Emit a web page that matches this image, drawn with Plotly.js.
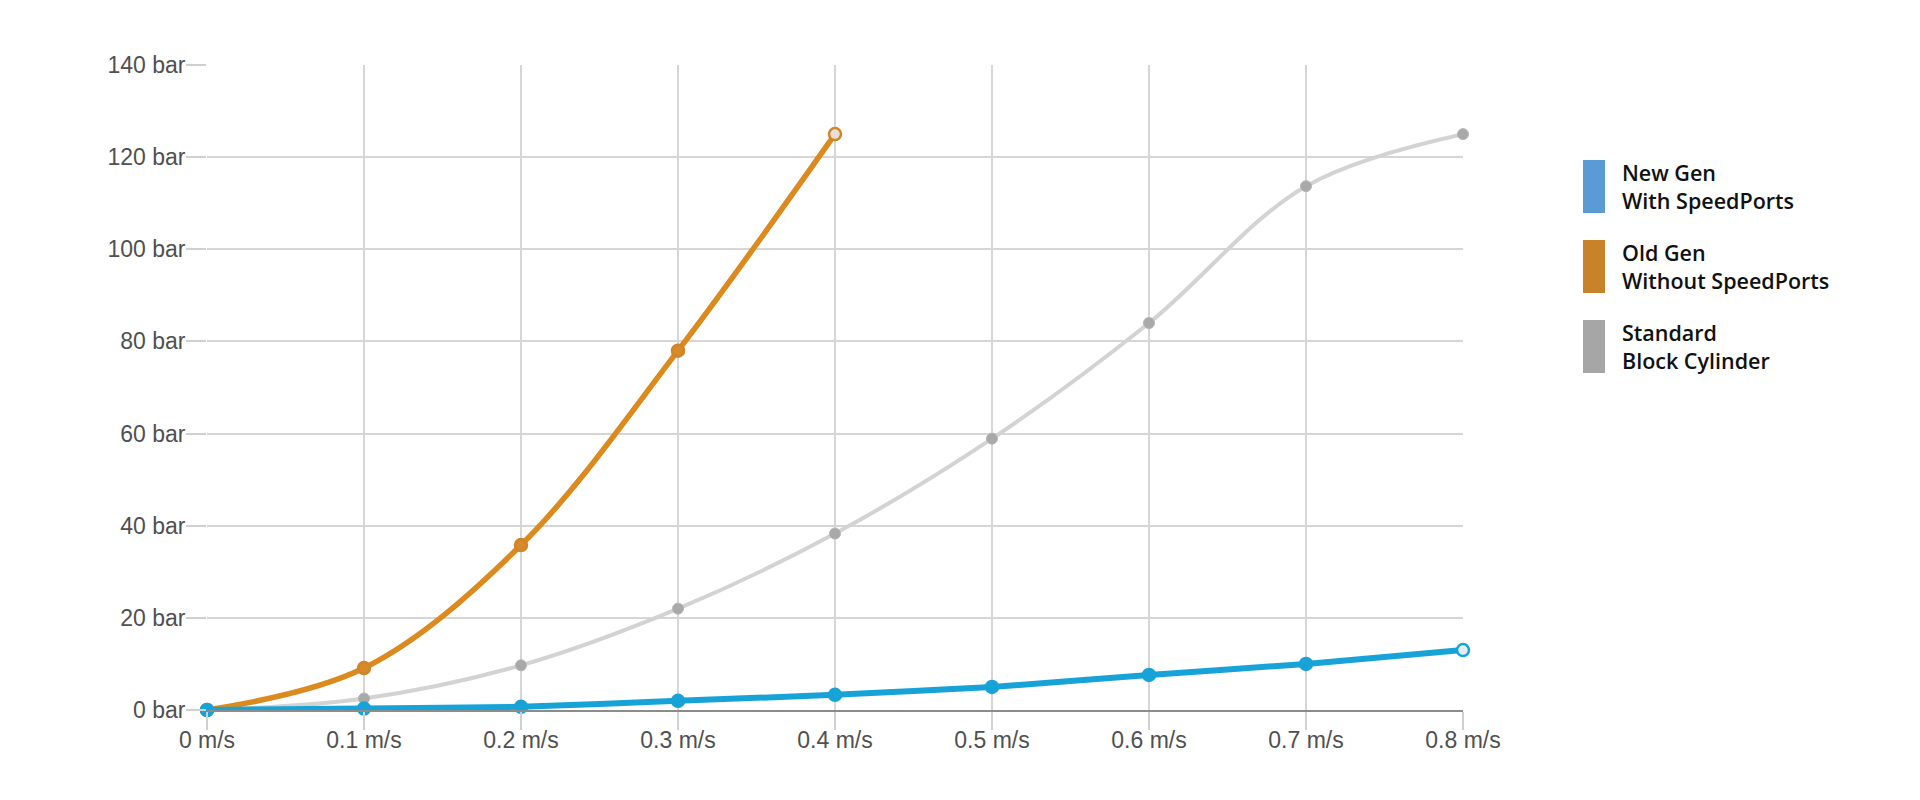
<!DOCTYPE html>
<html>
<head>
<meta charset="utf-8">
<script src="https://cdn.plot.ly/plotly-3.0.1.min.js"></script>
<style>
  html, body { margin: 0; padding: 0; background: #ffffff; }
  #chart { width: 1920px; height: 800px; }
</style>
</head>
<body>
<div id="chart"></div>
<script>
// ---- data ----
var speeds = [0, 0.1, 0.2, 0.3, 0.4, 0.5, 0.6, 0.7, 0.8];
var newGen = [0, 0.3, 0.7, 2.0, 3.3, 5.0, 7.6, 10.0, 13.0];
var oldGenSpeeds = [0, 0.1, 0.2, 0.3, 0.4];
var oldGen = [0, 9.1, 35.8, 78.0, 125.0];
var standard = [0, 2.5, 9.7, 22.0, 38.3, 58.9, 84.0, 113.7, 125.0];
var seriesNames = ["New Gen<br>With SpeedPorts", "Old Gen<br>Without SpeedPorts", "Standard<br>Block Cylinder"];
var yTicks = [0, 20, 40, 60, 80, 100, 120, 140];
var yTickText = ["0 bar", "20 bar", "40 bar", "60 bar", "80 bar", "100 bar", "120 bar", "140 bar"];
var xTickText = ["0 m/s", "0.1 m/s", "0.2 m/s", "0.3 m/s", "0.4 m/s", "0.5 m/s", "0.6 m/s", "0.7 m/s", "0.8 m/s"];

// ---- styles ----
var swatchColors = ["#5b9bd5", "#c8822a", "#a6a6a6"];
var tickFont = {family: "Liberation Sans, Arial, sans-serif", size: 23, color: "#505050"};

var traces = [
  {
    x: standard.map(function(_, i){ return speeds[i]; }), y: standard,
    mode: "lines+markers", type: "scatter", name: "Standard",
    line: {color: "#d3d3d3", width: 4, shape: "spline", smoothing: 1},
    marker: {color: "#a9a9a9", size: 11, line: {color: "#b5b5b5", width: 1}},
    showlegend: false, cliponaxis: false, hoverinfo: "x+y"
  },
  {
    x: oldGenSpeeds, y: oldGen,
    mode: "lines+markers", type: "scatter", name: "Old Gen",
    line: {color: "#dc8a1e", width: 5.5, shape: "spline", smoothing: 1},
    marker: {
      color: oldGen.map(function(_, i){ return i === oldGen.length - 1 ? "#e8e0d8" : "#d88a2a"; }),
      size: 12, line: {color: "#d08628", width: 2.5}
    },
    showlegend: false, cliponaxis: false, hoverinfo: "x+y"
  },
  {
    x: speeds, y: newGen,
    mode: "lines+markers", type: "scatter", name: "New Gen",
    line: {color: "#18a3d8", width: 6, shape: "spline", smoothing: 0.6},
    marker: {
      color: newGen.map(function(_, i){ return i === newGen.length - 1 ? "#e4eef2" : "#18a3d8"; }),
      size: 12, line: {color: "#18a3d8", width: 2.5}
    },
    showlegend: false, cliponaxis: false, hoverinfo: "x+y"
  }
];

// custom legend (tall colour swatches + two-line labels)
var shapes = [];
var annotations = [];
var legendTop = 160, legendStep = 80;
for (var i = 0; i < seriesNames.length; i++) {
  var y0 = legendTop + i * legendStep;
  shapes.push({
    type: "rect", xref: "paper", yref: "paper", layer: "above",
    x0: (1583 - 207) / (1463 - 207), x1: (1605 - 207) / (1463 - 207),
    y0: 1 - (y0 - 65) / (710 - 65), y1: 1 - (y0 + 53 - 65) / (710 - 65),
    fillcolor: swatchColors[i], line: {width: 0}
  });
  annotations.push({
    xref: "paper", yref: "paper", showarrow: false,
    x: (1620 - 207) / (1463 - 207), xanchor: "left",
    y: 1 - (y0 + 26 - 65) / (710 - 65), yanchor: "middle",
    text: seriesNames[i], align: "left",
    font: {family: "Open Sans, sans-serif", size: 21.5, color: "#111111", weight: 600}
  });
}

var layout = {
  width: 1920, height: 800,
  margin: {l: 207, r: 457, t: 65, b: 90},
  paper_bgcolor: "#ffffff", plot_bgcolor: "#ffffff",
  showlegend: false,
  xaxis: {
    range: [0, 0.8], tickvals: speeds, ticktext: xTickText,
    showgrid: true, gridcolor: "#d6d6d6", gridwidth: 2,
    zeroline: false, showline: true, linecolor: "#8c8c8c", linewidth: 2,
    ticks: "outside", ticklen: 18, tickcolor: "#d0d0d0", tickwidth: 2,
    ticklabelstandoff: -10,
    tickfont: tickFont, fixedrange: true
  },
  yaxis: {
    range: [0, 140], tickvals: yTicks, ticktext: yTickText,
    showgrid: true, gridcolor: "#d6d6d6", gridwidth: 2,
    zeroline: false, showline: false,
    ticks: "outside", ticklen: 20, tickcolor: "#d0d0d0", tickwidth: 2,
    ticklabelstandoff: -4,
    tickfont: tickFont, fixedrange: true
  },
  shapes: shapes,
  annotations: annotations
};

Plotly.newPlot("chart", traces, layout, {displayModeBar: false, staticPlot: true});
</script>
</body>
</html>
